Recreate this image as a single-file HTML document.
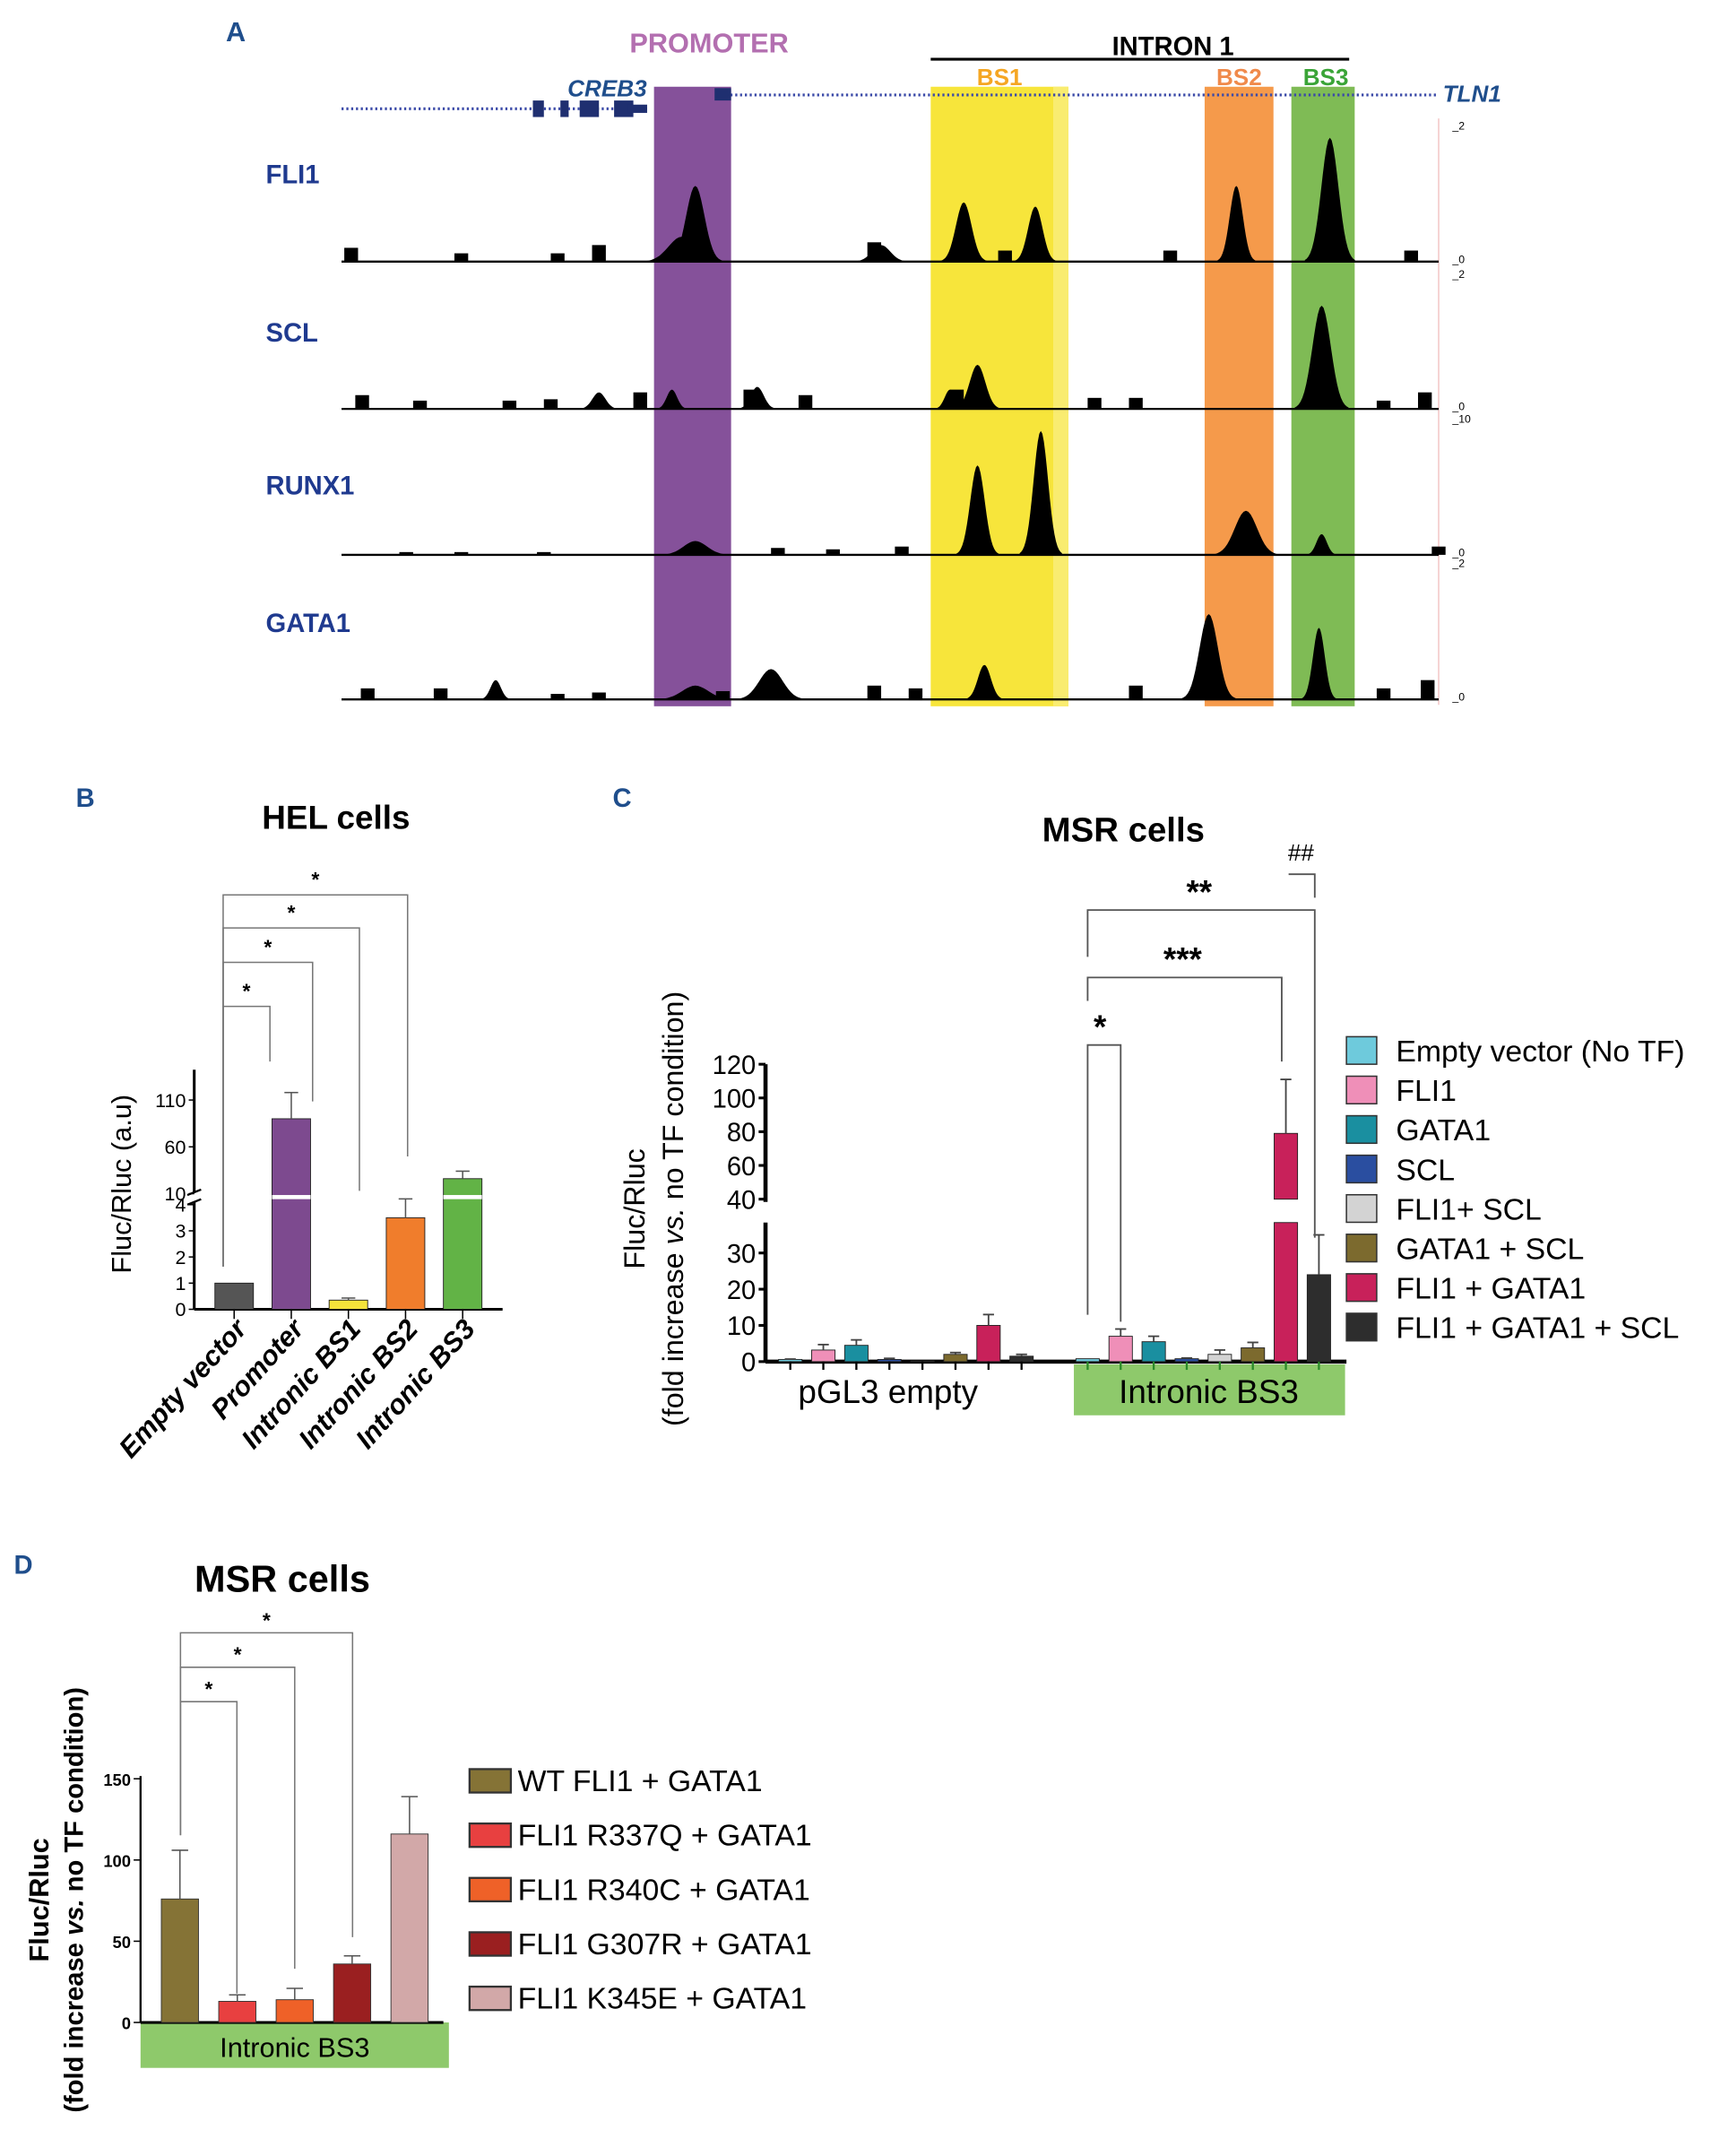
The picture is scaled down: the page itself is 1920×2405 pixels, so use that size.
<!DOCTYPE html>
<html><head><meta charset="utf-8"><style>
html,body{margin:0;padding:0;background:#fff;}
svg{display:block;font-family:"Liberation Sans",sans-serif;}
</style></head><body>
<svg id="fig" width="1920" height="2405" viewBox="0 0 1250 1566" xmlns="http://www.w3.org/2000/svg">
<g id="pa"></g>
<g id="pb"></g>
<g id="pc"></g>
<g id="pd"></g>
</svg>
<script>
// ---------- Panel A data ----------
const trackNames = ["FLI1","SCL","RUNX1","GATA1"];
const trackMax = ["2","2","10","2"];
const fliPeaks = [[505,55,14],[700,43,12],[752,40,11],[898,55,10],[966,90,13],[495,18,20],[640,12,14]];
const sclPeaks = [[710,32,12],[960,75,14],[488,14,8],[435,12,10],[550,16,10],[690,14,8]];
const runxPeaks = [[710,65,11],[756,90,11],[905,32,17],[960,15,8],[505,10,18]];
const gataPeaks = [[878,62,14],[958,52,9],[715,25,10],[560,22,18],[505,10,20],[360,14,8]];
const fliBlocks = [[250,10],[330,6],[400,6],[430,12],[630,14],[725,8],[845,8],[1020,8]];
const sclBlocks = [[258,10],[300,6],[365,6],[395,7],[460,12],[540,14],[580,10],[690,14],[790,8],[820,8],[1000,6],[1030,12]];
const runxBlocks = [[290,2],[330,2],[390,2],[560,5],[600,4],[650,6],[1040,6]];
const gataBlocks = [[262,8],[315,8],[400,4],[430,5],[520,6],[630,10],[660,8],[820,10],[1000,8],[1032,14]];

// ---------- Panel B data ----------
const bCats = ["Empty vector","Promoter","Intronic BS1","Intronic BS2","Intronic BS3"];
const bVals = [1.0, 90, 0.35, 3.5, 26];
const bErr = [0, 28, 0.08, 0.9, 8];
const bColors = ["#555555","#7d4a8f","#f5e33a","#f07d2c","#62b346"];
const bLowTicks = [0,1,2,3,4];
const bHighTicks = [10,60,110];

// ---------- Panel C data ----------
const cSeries = ["Empty vector (No TF)","FLI1","GATA1","SCL","FLI1+ SCL","GATA1 + SCL","FLI1 + GATA1","FLI1 + GATA1 + SCL"];
const cColors = ["#6ecadc","#ef8fb8","#1a8fa0","#2a4ea0","#d3d3d3","#7c6a2e","#c8215a","#2d2d2d"];
const cEmptyVals = [0.6, 3.2, 4.5, 0.6, 0.2, 2.0, 10, 1.5];
const cEmptyErr = [0.1, 1.5, 1.5, 0.3, 0, 0.5, 3, 0.5];
const cBS3Vals = [0.8, 7, 5.5, 0.8, 2, 3.8, 79, 24];
const cBS3Err = [0, 2, 1.5, 0.2, 1.2, 1.5, 32, 11];
const cLowTicks = [0,10,20,30];
const cHighTicks = [40,60,80,100,120];

// ---------- Panel D data ----------
const dSeries = ["WT FLI1 + GATA1","FLI1 R337Q + GATA1","FLI1 R340C + GATA1","FLI1 G307R + GATA1","FLI1 K345E + GATA1"];
const dVals = [76, 13, 14, 36, 116];
const dErr = [30, 4, 7, 5, 23];
const dColors = ["#857336","#e84040","#ef6128","#9a1f20","#d2a8a8"];
const dTicks = [0,50,100,150];

const NS="http://www.w3.org/2000/svg";
function mk(parent,tag,attrs,text){const e=document.createElementNS(NS,tag);for(const k in attrs)e.setAttribute(k,attrs[k]);if(text!==undefined)e.textContent=text;parent.appendChild(e);return e;}

// ===== Panel A =====
const A=document.getElementById('pa');
let t;
t=mk(A,'text',{x:164,y:30,'font-size':20,'font-weight':'bold',fill:'#1f4e8c'},'A');

const bands=[[475,531,'#85519a','promoter-band'],[676,776,'#f7e53b','bs1-band'],[875,925,'#f59a4b','bs2-band'],[938,984,'#7fbb55','bs3-band']];
bands.forEach(b=>{const r=mk(A,'rect',{x:b[0],y:63,width:b[1]-b[0],height:450,fill:b[2]});
});
mk(A,'rect',{x:765,y:63,width:11,height:450,fill:'#f9ec70'});
t=mk(A,'text',{x:515,y:38,'font-size':20,'font-weight':'bold',fill:'#b36fb0','text-anchor':'middle'},'PROMOTER');

t=mk(A,'text',{x:852,y:40,'font-size':19,'font-weight':'bold',fill:'#000','text-anchor':'middle'},'INTRON 1');

mk(A,'line',{x1:676,x2:980,y1:43,y2:43,stroke:'#000','stroke-width':2});
[['BS1',726,'#f5a623'],['BS2',900,'#f08a4b'],['BS3',963,'#3aa437']].forEach(b=>{t=mk(A,'text',{x:b[1],y:62,'font-size':17,'font-weight':'bold',fill:b[2],'text-anchor':'middle'},b[0]);
});
mk(A,'line',{x1:520,x2:1045,y1:69,y2:69,stroke:'#3b4aa8','stroke-width':2,'stroke-dasharray':'1.5 2'});
mk(A,'line',{x1:248,x2:470,y1:79,y2:79,stroke:'#3b4aa8','stroke-width':2,'stroke-dasharray':'1.5 2'});
mk(A,'rect',{x:519,y:64,width:12,height:9,fill:'#1f2f70'});
[[387,8],[407,6],[421,14],[446,14]].forEach(e=>mk(A,'rect',{x:e[0],y:73,width:e[1],height:12,fill:'#1f2f70'}));
mk(A,'rect',{x:456,y:76,width:14,height:6,fill:'#1f2f70'});
t=mk(A,'text',{x:441,y:70,'font-size':17,'font-weight':'bold','font-style':'italic',fill:'#1f4e8c','text-anchor':'middle'},'CREB3');

t=mk(A,'text',{x:1048,y:74,'font-size':17,'font-weight':'bold','font-style':'italic',fill:'#1f4e8c'},'TLN1');

mk(A,'line',{x1:1045,x2:1045,y1:86,y2:512,stroke:'#f4c7c7','stroke-width':1});
const baselines=[190,297,403,508];
const tops=[92,200,305,410];
const labY=[133,248,359,459];
const peaksAll=[fliPeaks,sclPeaks,runxPeaks,gataPeaks];
const blocksAll=[fliBlocks,sclBlocks,runxBlocks,gataBlocks];
trackNames.forEach((n,i)=>{
  const g=mk(A,'g',{});
  
  t=mk(g,'text',{x:193,y:labY[i],'font-size':19,'font-weight':'bold',fill:'#1f3a8f'},n);
  
  const b=baselines[i];
  blocksAll[i].forEach(bl=>mk(g,'rect',{x:bl[0],y:b-bl[1],width:10,height:bl[1],fill:'#000'}));
  peaksAll[i].forEach(p=>{
    let pts=[];const c=p[0],h=p[1],w=p[2];
    for(let k=-2.8;k<=2.8001;k+=0.2){const x=c+k*w/2;const y=b-h*Math.exp(-k*k/1.8);pts.push(x.toFixed(1)+','+y.toFixed(1));}
    const poly=mk(g,'polygon',{points:(c-1.4*w)+','+b+' '+pts.join(' ')+' '+(c+1.4*w)+','+b,fill:'#000'});
    
  });
  mk(g,'line',{x1:248,x2:1045,y1:b,y2:b,stroke:'#000','stroke-width':1.5});
  mk(g,'text',{x:1055,y:tops[i]+2,'font-size':8,fill:'#000'},'_'+trackMax[i]);
  mk(g,'text',{x:1055,y:b+1,'font-size':8,fill:'#000'},'_0');
});

// ===== Panel B =====
const B=document.getElementById('pb');
t=mk(B,'text',{x:55,y:586,'font-size':19,'font-weight':'bold',fill:'#1f4e8c'},'B');
t=mk(B,'text',{x:244,y:602,'font-size':24,'font-weight':'bold',fill:'#000','text-anchor':'middle'},'HEL cells');
const bY0=951, bLowScale=19, bHighBase=867, bHighScale=0.68;
function bY(v){return v<=4.2? bY0-v*bLowScale : bHighBase-(v-10)*bHighScale;}
mk(B,'line',{x1:141,x2:141,y1:951,y2:873,stroke:'#000','stroke-width':2});
mk(B,'line',{x1:141,x2:141,y1:866,y2:777,stroke:'#000','stroke-width':2});
mk(B,'line',{x1:136,x2:146,y1:875,y2:871,stroke:'#000','stroke-width':1.5});
mk(B,'line',{x1:136,x2:146,y1:868,y2:864,stroke:'#000','stroke-width':1.5});
mk(B,'line',{x1:141,x2:365,y1:951,y2:951,stroke:'#000','stroke-width':2});
bLowTicks.concat(bHighTicks).forEach(v=>{const y=bY(v);mk(B,'line',{x1:137,x2:141,y1:y,y2:y,stroke:'#000'});
 t=mk(B,'text',{x:135,y:y+5,'font-size':14,'text-anchor':'end',fill:'#000'},String(v));});
t=mk(B,'text',{x:0,y:0,'font-size':20,fill:'#000','text-anchor':'middle',transform:'translate(95,860) rotate(-90)'},'Fluc/Rluc (a.u)');

const bX0=170, bStep=41.5, bW=28;
bCats.forEach((c,i)=>{
  const cx=bX0+i*bStep, top=bY(bVals[i]);
  const r=mk(B,'rect',{x:cx-bW/2,y:top,width:bW,height:bY0-top,fill:bColors[i],stroke:'#222','stroke-width':0.6});
  
  if(bVals[i]>10) mk(B,'rect',{x:cx-bW/2,y:868,width:bW,height:3,fill:'#fff'});
  if(bErr[i]>0){const et=bY(bVals[i]+bErr[i]);mk(B,'line',{x1:cx,x2:cx,y1:top,y2:et,stroke:'#555'});mk(B,'line',{x1:cx-5,x2:cx+5,y1:et,y2:et,stroke:'#555'});}
  mk(B,'line',{x1:cx,x2:cx,y1:951,y2:958,stroke:'#000'});
  t=mk(B,'text',{x:0,y:0,'font-size':20,'font-weight':'bold','font-style':'italic','text-anchor':'end',fill:'#000',transform:`translate(${cx+10},${966}) rotate(-48)`},c);
  
});
const bBr=[[731,196,771,'*'],[699,227,800,'*'],[674,261,865,'*'],[650,296,840,'*']];
bBr.forEach((br,i)=>{const g=mk(B,'g',{});
  mk(g,'polyline',{points:`162,${920} 162,${br[0]} ${br[1]},${br[0]} ${br[1]},${br[2]}`,fill:'none',stroke:'#777','stroke-width':1});
  mk(g,'text',{x:(162+br[1])/2,y:br[0]-6,'font-size':15,'font-weight':'bold','text-anchor':'middle'},br[3]);});

// ===== Panel C =====
const C=document.getElementById('pc');
t=mk(C,'text',{x:445,y:586,'font-size':19,'font-weight':'bold',fill:'#1f4e8c'},'C');
t=mk(C,'text',{x:816,y:611,'font-size':25,'font-weight':'bold',fill:'#000','text-anchor':'middle'},'MSR cells');
const cY0=989, cLowScale=2.63, cHighBase=871, cHighScale=1.225;
function cY(v){return v<=38? cY0-v*cLowScale : cHighBase-(v-40)*cHighScale;}
mk(C,'line',{x1:556,x2:556,y1:989,y2:888,stroke:'#000','stroke-width':3});
mk(C,'line',{x1:556,x2:556,y1:873,y2:773,stroke:'#000','stroke-width':3});
mk(C,'line',{x1:556,x2:978,y1:989,y2:989,stroke:'#000','stroke-width':3});
cLowTicks.concat(cHighTicks).forEach(v=>{const y=cY(v);mk(C,'line',{x1:551,x2:556,y1:y,y2:y,stroke:'#000','stroke-width':2});
 t=mk(C,'text',{x:549,y:y+7,'font-size':19,'text-anchor':'end',fill:'#000'},String(v));});
t=mk(C,'text',{x:0,y:0,'font-size':21,fill:'#000','text-anchor':'middle',transform:'translate(468,878) rotate(-90)'},'Fluc/Rluc');
t=mk(C,'text',{x:0,y:0,'font-size':21,fill:'#000','text-anchor':'middle',transform:'translate(496,878) rotate(-90)'});
t.innerHTML='(fold increase <tspan font-style="italic">vs.</tspan> no TF condition)';
const bg=mk(C,'rect',{x:780,y:991,width:197,height:37,fill:'#8ec96b'});
t=mk(C,'text',{x:878,y:1019,'font-size':24,'text-anchor':'middle',fill:'#000'},'Intronic BS3');
t=mk(C,'text',{x:645,y:1019,'font-size':24,'text-anchor':'middle',fill:'#000'},'pGL3 empty');
const cGroupStart=[574,790], cStep=24, cW=17;
[[cEmptyVals,cEmptyErr],[cBS3Vals,cBS3Err]].forEach((grp,gi)=>{
  grp[0].forEach((v,i)=>{
    const cx=cGroupStart[gi]+i*cStep, top=cY(v);
    if(v>38){
      const r1=mk(C,'rect',{x:cx-cW/2,y:888,width:cW,height:cY0-888,fill:cColors[i],stroke:'#222','stroke-width':0.6});
      
      const r2=mk(C,'rect',{x:cx-cW/2,y:top,width:cW,height:cHighBase-top,fill:cColors[i],stroke:'#222','stroke-width':0.6});
      
    } else {
      const r=mk(C,'rect',{x:cx-cW/2,y:top,width:cW,height:cY0-top,fill:cColors[i],stroke:'#222','stroke-width':0.6});
      
    }
    const e=grp[1][i];
    if(e>0){const et=cY(v+e);mk(C,'line',{x1:cx,x2:cx,y1:top,y2:et,stroke:'#444','stroke-width':1.2});mk(C,'line',{x1:cx-4,x2:cx+4,y1:et,y2:et,stroke:'#444','stroke-width':1.2});}
    mk(C,'line',{x1:cx,x2:cx,y1:989,y2:995,stroke:gi?'#2a8a2a':'#000','stroke-width':1.5});
  });
});
const cBr=[[790,759,814,960,955,'*',799],[790,710,931,771,727,'***',859],[790,661,955,899,695,'**',871]];
cBr.forEach(br=>{const g=mk(C,'g',{});
  mk(g,'polyline',{points:`${br[0]},${br[4]} ${br[0]},${br[1]} ${br[2]},${br[1]} ${br[2]},${br[3]}`,fill:'none',stroke:'#555','stroke-width':1.2});
  mk(g,'text',{x:br[6],y:br[1]-5,'font-size':24,'font-weight':'bold','text-anchor':'middle'},br[5]);});
mk(C,'polyline',{points:'936,635 955,635 955,652',fill:'none',stroke:'#555','stroke-width':1.2});
t=mk(C,'text',{x:945,y:625,'font-size':17,'text-anchor':'middle'},'##');
cSeries.forEach((s,i)=>{const g=mk(C,'g',{});
  const yc=763+i*28.7;
  mk(g,'rect',{x:978,y:yc-10,width:22,height:20,fill:cColors[i],stroke:'#333','stroke-width':1});
  mk(g,'text',{x:1014,y:yc+8,'font-size':22,fill:'#000'},s);});

// ===== Panel D =====
const D=document.getElementById('pd');
t=mk(D,'text',{x:10,y:1143,'font-size':19,'font-weight':'bold',fill:'#1f4e8c'},'D');
t=mk(D,'text',{x:205,y:1156,'font-size':27,'font-weight':'bold',fill:'#000','text-anchor':'middle'},'MSR cells');
const dY0=1469, dScale=1.18;
function dY(v){return dY0-v*dScale;}
const gb=mk(D,'rect',{x:102,y:1469,width:224,height:33,fill:'#8ec96b'});
mk(D,'line',{x1:102,x2:102,y1:1469,y2:1290,stroke:'#000','stroke-width':1.5});
mk(D,'line',{x1:102,x2:322,y1:1469,y2:1469,stroke:'#000','stroke-width':2});
dTicks.forEach(v=>{const y=dY(v);mk(D,'line',{x1:97,x2:102,y1:y,y2:y,stroke:'#000'});
 t=mk(D,'text',{x:95,y:y+5,'font-size':12,'font-weight':'bold','text-anchor':'end',fill:'#000'},String(v));});
t=mk(D,'text',{x:214,y:1494,'font-size':20,'text-anchor':'middle',fill:'#000'},'Intronic BS3');
t=mk(D,'text',{x:0,y:0,'font-size':20,'font-weight':'bold','text-anchor':'middle',transform:'translate(35,1380) rotate(-90)'},'Fluc/Rluc');
t=mk(D,'text',{x:0,y:0,'font-size':19,'font-weight':'bold','text-anchor':'middle',transform:'translate(60,1380) rotate(-90)'});
t.innerHTML='(fold increase <tspan font-style="italic">vs.</tspan> no TF condition)';
const dX0=130.6, dStep=41.7, dW=27;
dVals.forEach((v,i)=>{const cx=dX0+i*dStep, top=dY(v);
  const r=mk(D,'rect',{x:cx-dW/2,y:top,width:dW,height:dY0-top,fill:dColors[i],stroke:'#333','stroke-width':0.6});
  
  const et=dY(v+dErr[i]);mk(D,'line',{x1:cx,x2:cx,y1:top,y2:et,stroke:'#555'});mk(D,'line',{x1:cx-6,x2:cx+6,y1:et,y2:et,stroke:'#555'});});
const dBr=[[1236,172,1448],[1211,214,1430],[1186,256,1407]];
dBr.forEach(br=>{const g=mk(D,'g',{});
  mk(g,'polyline',{points:`131,1333 131,${br[0]} ${br[1]},${br[0]} ${br[1]},${br[2]}`,fill:'none',stroke:'#777','stroke-width':1});
  mk(g,'text',{x:(131+br[1])/2,y:br[0]-4,'font-size':15,'font-weight':'bold','text-anchor':'middle'},'*');});
dSeries.forEach((s,i)=>{const g=mk(D,'g',{});
  const yc=1293+i*39.5;
  mk(g,'rect',{x:341,y:yc-8,width:30,height:17,fill:dColors[i],stroke:'#333','stroke-width':1.5});
  mk(g,'text',{x:376,y:yc+8,'font-size':22,fill:'#000'},s);});
</script>
</body></html>
